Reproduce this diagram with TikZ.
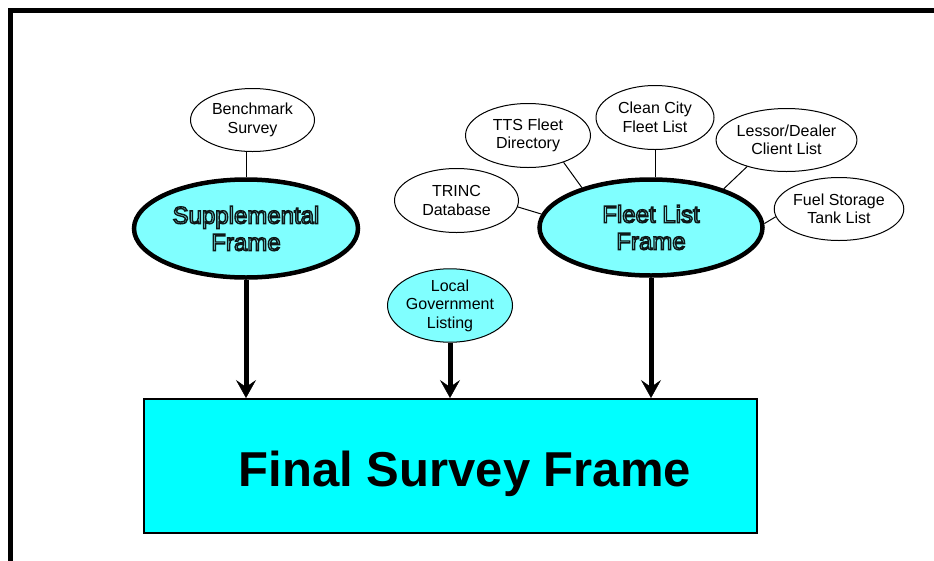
\documentclass[tikz,border=0pt]{standalone}
\usepackage{fontspec}
\setmainfont{Liberation Sans}
\usetikzlibrary{shapes.geometric,arrows.meta}

\definecolor{palecyan}{HTML}{80FFFF}
\definecolor{boxcyan}{HTML}{00FFFF}

% hollow lettering: light fill, dark stroked glyph outlines
\newcommand\outlinetext[1]{\textcolor{palecyan}{%
  \special{pdf:literal direct 0.06 0.09 0.09 RG 1.4 w 2 Tr}#1%
  \special{pdf:literal direct 0 Tr 0 0 0 RG 1 w}}}

\tikzset{
  src/.style={ellipse, draw, line width=1pt, fill=white, inner sep=0pt,
    font=\fontsize{16}{18.5}\selectfont, align=center},
  framenode/.style={ellipse, draw, line width=4.5pt, fill=palecyan, inner sep=0pt,
    font=\fontsize{24}{27}\selectfont, align=center},
  link/.style={line width=1pt},
  feed/.style={line width=5pt,
    -{Stealth[length=18pt,width=20pt,inset=7pt,line width=0.5pt]}},
}

\begin{document}
\begin{tikzpicture}[x=1pt,y=-1pt]
\useasboundingbox (0,0) rectangle (934,560);

% outer frame
\draw[line width=4.5pt] (10.5,575) -- (10.5,10.5) -- (945,10.5);

% source lists
\node[src, minimum width=124pt, minimum height=63pt] (bench) at (252.5,120) {Benchmark\\Survey};
\node[src, minimum width=124pt, minimum height=64pt] (trinc) at (456.5,200.5) {TRINC\\Database};
\node[src, minimum width=125pt, minimum height=64pt] (tts) at (528,135.5) {TTS Fleet\\Directory};
\node[src, minimum width=118pt, minimum height=64pt] (clean) at (655,117.5) {Clean City\\Fleet List};
\node[src, minimum width=124pt, minimum height=63pt] (lessor) at (786.5,140) {Lessor/Dealer\\Client List};
\node[src, minimum width=123pt, minimum height=63pt] (fuel) at (839,209) {Fuel Storage\\Tank List};
\node[src, fill=palecyan, minimum width=125pt, minimum height=64pt] (local) at (450,305.5) {Local\\Government\\Listing};

% intermediate frames
\node[framenode, minimum width=224pt, minimum height=98pt] (supp) at (246,228.5)
  {\outlinetext{Supplemental}\\\outlinetext{Frame}};
\node[framenode, minimum width=223pt, minimum height=96pt] (fleet) at (651,227.5)
  {\outlinetext{Fleet List}\\\outlinetext{Frame}};

% final frame
\node[draw, line width=2pt, fill=boxcyan, minimum width=613pt, minimum height=134pt,
  inner sep=0pt] (final) at (450.5,466) {};
\node[anchor=base, inner sep=0pt, font=\fontsize{49}{55}\selectfont\bfseries]
  (finaltext) at (465,486) {Final Survey Frame};

% thin links
\draw[link] (supp.north) -- (supp.north |- bench.south);
\draw[link] (trinc.-6) -- (fleet.173);
\draw[link] (tts.-37) -- (fleet.150);
\draw[link] (fleet.north -| clean.south) -- (clean.south);
\draw[link] (lessor.214) -- (fleet.28);
\draw[link] (fuel.187) -- (fleet.2);

% feeds into the final frame
\draw[feed] (supp.south) -- (supp.south |- final.north);
\draw[feed] (local.south) -- (local.south |- final.north);
\draw[feed] (fleet.south) -- (fleet.south |- final.north);
\end{tikzpicture}
\end{document}
